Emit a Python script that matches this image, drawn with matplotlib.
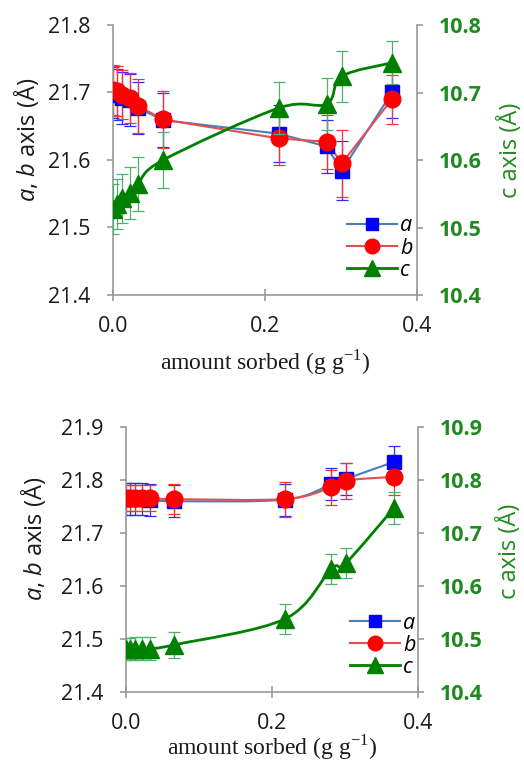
import numpy as np
import matplotlib
matplotlib.use("Agg")
import matplotlib.pyplot as plt
from matplotlib.path import Path
from matplotlib.patches import PathPatch
from matplotlib.lines import Line2D

plt.rcParams['font.family'] = ['Open Sans', 'DejaVu Sans']
plt.rcParams['mathtext.fontset'] = 'custom'
plt.rcParams['mathtext.rm'] = 'Liberation Serif'
plt.rcParams['mathtext.it'] = 'Open Sans:italic'

# ---------------- data ----------------
amount = [0.0, 0.005, 0.012, 0.022, 0.033, 0.066, 0.218, 0.281, 0.301, 0.367]

# top panel
top_a = [21.700, 21.697, 21.692, 21.689, 21.677, 21.659, 21.639, 21.620, 21.584, 21.700]
top_a_err = [0.038, 0.038, 0.038, 0.038, 0.038, 0.040, 0.042, 0.039, 0.044, 0.038]
top_b = [21.704, 21.702, 21.697, 21.692, 21.680, 21.660, 21.632, 21.627, 21.595, 21.690]
top_b_err = [0.037, 0.037, 0.037, 0.037, 0.040, 0.042, 0.040, 0.040, 0.050, 0.036]
top_c = [10.528, 10.535, 10.543, 10.551, 10.565, 10.600, 10.677, 10.683, 10.724, 10.744]
top_c_err = [0.037, 0.037, 0.037, 0.038, 0.040, 0.042, 0.038, 0.039, 0.038, 0.032]

# bottom panel
bot_a = [21.764, 21.764, 21.764, 21.764, 21.763, 21.760, 21.763, 21.792, 21.802, 21.834]
bot_a_err = [0.030, 0.030, 0.030, 0.030, 0.030, 0.030, 0.030, 0.030, 0.031, 0.031]
bot_b = [21.766, 21.766, 21.766, 21.766, 21.766, 21.764, 21.764, 21.786, 21.799, 21.806]
bot_b_err = [0.025, 0.025, 0.025, 0.025, 0.025, 0.028, 0.033, 0.033, 0.034, 0.034]
bot_c = [10.481, 10.481, 10.482, 10.482, 10.482, 10.489, 10.538, 10.632, 10.643, 10.747]
bot_c_err = [0.020, 0.020, 0.022, 0.022, 0.022, 0.025, 0.028, 0.029, 0.028, 0.030]

x_ticks = [0.0, 0.2, 0.4]
top_left_ticks = [21.4, 21.5, 21.6, 21.7, 21.8]
top_right_ticks = [10.4, 10.5, 10.6, 10.7, 10.8]
bot_left_ticks = [21.4, 21.5, 21.6, 21.7, 21.8, 21.9]
bot_right_ticks = [10.4, 10.5, 10.6, 10.7, 10.8, 10.9]

# ---------------- style ----------------
GRAY = '#9a9a9a'
GREEN_TXT = '#1f8a1f'
A_LINE, A_MK, A_ERR = '#4a7ebb', '#0000ff', '#2b2bff'
B_LINE, B_MK, B_ERR = '#e0504f', '#ff0000', '#ff3030'
C_LINE, C_MK, C_ERR = '#008000', '#008000', '#4cb36a'


def smooth_path(x, y):
    pts = np.column_stack([x, y]).astype(float)
    n = len(pts)
    verts = [pts[0]]
    codes = [Path.MOVETO]
    for i in range(n - 1):
        p0 = pts[max(i - 1, 0)]
        p1 = pts[i]
        p2 = pts[i + 1]
        p3 = pts[min(i + 2, n - 1)]
        verts += [p1 + (p2 - p0) / 6.0, p2 - (p3 - p1) / 6.0, p2]
        codes += [Path.CURVE4] * 3
    return Path(verts, codes)


def draw_series(ax, x, y, err, line_c, mk_c, err_c, marker, ms, smooth, lw):
    ax.errorbar(x, y, yerr=err, fmt='none', ecolor=err_c, elinewidth=0.9,
                capsize=4, capthick=0.9, zorder=2)
    if smooth:
        ax.add_patch(PathPatch(smooth_path(x, y), fill=False, edgecolor=line_c,
                               lw=lw, zorder=3))
    else:
        ax.plot(x, y, '-', color=line_c, lw=lw, zorder=3)
    ax.plot(x, y, ls='none', marker=marker, ms=ms, mfc=mk_c, mec=mk_c, zorder=4)


def make_panel(rect, a, ae, b, be, c, ce, lticks, rticks, smooth_ab,
               ylab_xy, ylab2_xy, xlab_y, leg_xy):
    ax = fig.add_axes(rect)
    ax2 = ax.twinx()
    draw_series(ax, amount, a, ae, A_LINE, A_MK, A_ERR, 's', 9.5, smooth_ab, 1.5)
    draw_series(ax, amount, b, be, B_LINE, B_MK, B_ERR, 'o', 12, smooth_ab, 1.5)
    draw_series(ax2, amount, c, ce, C_LINE, C_MK, C_ERR, '^', 13, True, 2.0)

    ax.set_xlim(0, 0.4)
    ax.set_ylim(lticks[0], lticks[-1])
    ax2.set_ylim(rticks[0], rticks[-1])
    ax.set_xticks(x_ticks)
    ax.set_xticklabels([f'{v:.1f}' for v in x_ticks])
    ax.set_yticks(lticks)
    ax.set_yticklabels([f'{v:.1f}' for v in lticks])
    ax2.set_yticks(rticks)
    ax2.set_yticklabels([f'{v:.1f}' for v in rticks])

    for s in ['top', 'right']:
        ax.spines[s].set_visible(False)
    for s in ['top', 'left', 'bottom']:
        ax2.spines[s].set_visible(False)
    ax.spines['left'].set_color(GRAY)
    ax.spines['bottom'].set_color(GRAY)
    ax2.spines['right'].set_color(GRAY)
    for s in ['left', 'bottom']:
        ax.spines[s].set_linewidth(1.2)
    ax2.spines['right'].set_linewidth(1.2)

    ax.tick_params(axis='y', direction='out', length=4, width=1.2, color=GRAY,
                   pad=12, labelsize=15.5, labelcolor='#1a1a1a')
    ax.tick_params(axis='x', direction='inout', length=8, width=1.2, color=GRAY,
                   pad=11, labelsize=15.5, labelcolor='#1a1a1a')
    ax2.tick_params(axis='y', direction='out', length=4, width=1.2, color=GRAY,
                    pad=12, labelsize=15.5, labelcolor=GREEN_TXT)
    for t in ax2.get_yticklabels():
        t.set_fontweight('bold')

    ax.set_ylabel(r'$\mathit{a}$, $\mathit{b}$ axis (Å)', fontsize=17, color='#1a1a1a')
    ax.yaxis.label.set_va('center')
    ax.yaxis.set_label_coords(*ylab_xy)
    ax2.set_ylabel('c axis (Å)', fontsize=17, color=GREEN_TXT, rotation=90)
    ax2.yaxis.label.set_va('center')
    ax2.yaxis.set_label_coords(*ylab2_xy)
    ax.set_xlabel(r'amount sorbed (g g$^{\mathrm{-1}}$)', fontsize=17,
                  family='Liberation Serif', color='#1a1a1a')
    ax.xaxis.label.set_va('center')
    ax.xaxis.set_label_coords(0.5, xlab_y)

    handles = [
        Line2D([], [], color=A_LINE, lw=1.5, marker='s', ms=8, mfc=A_MK, mec=A_MK),
        Line2D([], [], color=B_LINE, lw=1.5, marker='o', ms=10.5, mfc=B_MK, mec=B_MK),
        Line2D([], [], color=C_LINE, lw=2.0, marker='^', ms=11, mfc=C_MK, mec=C_MK),
    ]
    ax2.legend(handles, ['a', 'b', 'c'], loc='center', bbox_to_anchor=leg_xy,
               frameon=False, prop={'style': 'italic', 'size': 15.5},
               handlelength=2.3, handletextpad=0.15, labelspacing=0.05,
               borderpad=0.2)
    return ax, ax2


fig = plt.figure(figsize=(5.24, 7.65), dpi=100)

make_panel([113 / 524, 1 - 295 / 765, (417 - 113) / 524, 270 / 765],
           top_a, top_a_err, top_b, top_b_err, top_c, top_c_err,
           top_left_ticks, top_right_ticks, False,
           (-0.286, 0.574), (1.306, 0.537), -0.248, (0.878, 0.174))

make_panel([126 / 524, 1 - 692 / 765, (418 - 126) / 524, 265 / 765],
           bot_a, bot_a_err, bot_b, bot_b_err, bot_c, bot_c_err,
           bot_left_ticks, bot_right_ticks, True,
           (-0.318, 0.577), (1.315, 0.532), -0.208, (0.88, 0.177))

fig.savefig('out.png', dpi=100)
